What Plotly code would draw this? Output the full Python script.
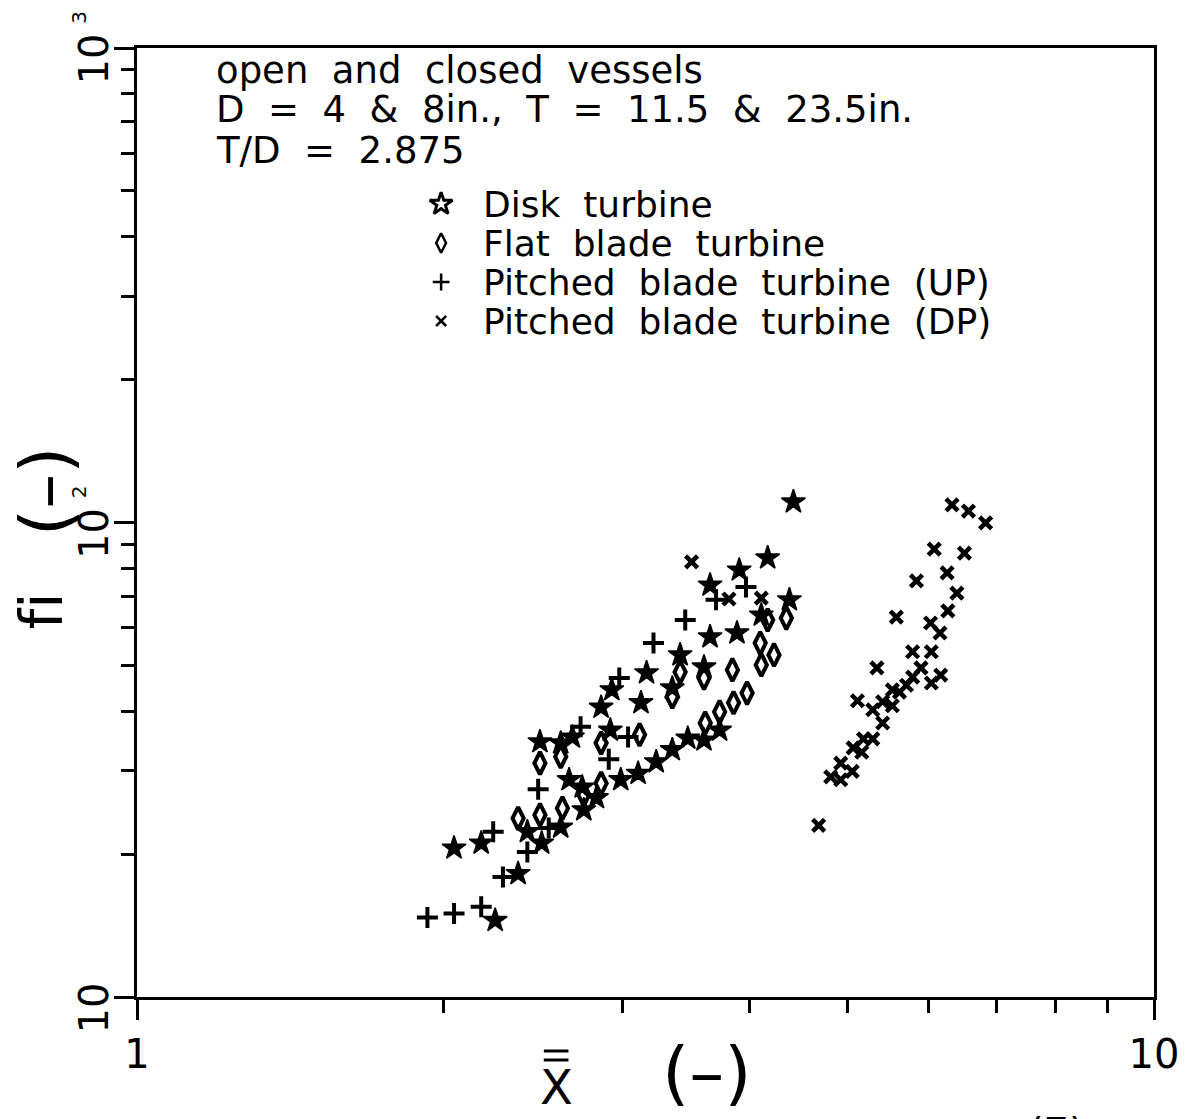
import plotly.graph_objects as go

# Disk turbine
disk_x = [4.42, 4.17, 3.91, 3.66, 4.38, 4.11, 3.66, 3.89, 3.42, 3.61, 3.17, 2.93, 2.86, 3.13, 3.36,
          3.74, 3.61, 3.48, 3.36, 3.24, 2.92, 2.68, 2.61, 2.49, 2.66, 2.74, 2.99, 3.11, 2.83, 2.75,
          2.61, 2.42, 2.50, 2.37, 2.25, 2.05, 2.18]
disk_y = [110.5, 84.2, 79.4, 73.8, 68.7, 63.8, 57.4, 58.5, 52.6, 49.6, 48.2, 44.4, 40.8, 41.7, 44.8,
          36.5, 34.8, 35.1, 33.2, 31.3, 36.5, 35.3, 34.3, 34.5, 28.7, 27.7, 28.7, 29.6, 26.3, 24.8,
          22.8, 22.3, 21.1, 18.2, 14.5, 20.6, 21.1]

# Flat blade turbine
flat_x = [4.17, 4.35, 3.42, 3.61, 3.85, 4.10, 4.11, 4.23, 3.36, 3.98, 3.86, 3.74, 3.62, 3.12, 2.86,
          2.61, 2.49, 2.86, 2.75, 2.62, 2.49, 2.37]
flat_y = [62.3, 62.9, 48.4, 47.0, 48.9, 55.7, 50.1, 52.6, 42.9, 43.7, 41.7, 39.9, 37.8, 35.7, 34.3,
          32.1, 31.1, 28.2, 26.7, 25.0, 24.2, 23.8]

# Pitched blade turbine, up-pumping
up_x = [3.97, 3.71, 3.46, 3.22, 2.98, 3.04, 2.91, 2.73, 2.48, 2.54, 2.42, 2.29, 2.24, 1.93, 2.05, 2.18]
up_y = [73.1, 68.7, 62.3, 55.7, 47.0, 35.3, 31.7, 37.1, 27.4, 22.7, 20.2, 17.9, 22.3, 14.7, 15.0, 15.5]

# Pitched blade turbine, down-pumping
dp_x = [3.51, 3.82, 4.11, 6.33, 6.57, 6.83, 6.08, 6.51, 6.26, 5.84, 6.40, 6.27, 5.58, 6.03, 6.16,
        5.79, 6.04, 5.34, 5.90, 5.79, 6.17, 6.04, 5.71, 5.53, 5.62, 5.11, 5.41, 5.53, 5.29, 5.41,
        5.29, 5.18, 5.06, 5.16, 4.92, 5.05, 4.81, 4.92, 4.68]
dp_y = [82.6, 69.0, 69.3, 108.9, 105.7, 99.8, 87.9, 86.2, 78.3, 75.3, 71.0, 65.1, 63.2, 61.4, 58.5,
        53.4, 53.4, 49.4, 49.4, 47.2, 47.7, 45.9, 45.4, 44.4, 43.9, 42.1, 41.9, 41.1, 40.3, 37.8,
        35.0, 35.0, 33.5, 32.8, 31.1, 29.9, 29.1, 28.7, 23.0]

series_names = ["Disk  turbine", "Flat  blade  turbine",
                "Pitched  blade  turbine  (UP)", "Pitched  blade  turbine  (DP)"]
header_lines = ["open  and  closed  vessels",
                "D  =  4  &  8in.,  T  =  11.5  &  23.5in.",
                "T/D  =  2.875"]
x_tick_vals = [1, 10]
x_tick_text = ["1", "10"]
x_minor_vals = [2, 3, 4, 5, 6, 7, 8, 9]
y_tick_exponents = [1, 2, 3]
y_minor_vals = [m * 10 ** e for e in (1, 2) for m in range(2, 10)]

FONT = "DejaVu Sans"
INK = "black"

# plot-area geometry in pixels (used to place free text in paper units)
W, H = 1191, 1119
L, R, T, B = 137, 24, 48, 122
PW, PH = W - L - R, H - T - B


def px_x(px):
    return (px - L) / PW


def px_y(py):
    return (H - B - py) / PH


def note(text, x, y, size, angle=0, xanchor="center", yanchor="middle", **kw):
    return dict(x=x, y=y, xref=kw.pop("xref", "paper"), yref=kw.pop("yref", "paper"),
                text=text, textangle=angle, showarrow=False, xanchor=xanchor,
                yanchor=yanchor, font=dict(family=FONT, size=size, color=INK), **kw)


marker_styles = [
    dict(symbol="star", size=18, color=INK, line=dict(color=INK, width=1.5)),
    dict(symbol="diamond-tall-open", size=16, color=INK, line=dict(color=INK, width=4)),
    dict(symbol="cross-thin-open", size=15, color=INK, line=dict(color=INK, width=4)),
    dict(symbol="x-thin-open", size=12, color=INK, line=dict(color=INK, width=4.5)),
]
legend_styles = [
    dict(symbol="star-open", size=17, color=INK, line=dict(color=INK, width=3)),
    dict(symbol="diamond-tall-open", size=14, color=INK, line=dict(color=INK, width=2.5)),
    dict(symbol="cross-thin-open", size=12, color=INK, line=dict(color=INK, width=2.5)),
    dict(symbol="x-thin-open", size=10, color=INK, line=dict(color=INK, width=2.5)),
]

fig = go.Figure()
for xs, ys, name, mk in zip([disk_x, flat_x, up_x, dp_x], [disk_y, flat_y, up_y, dp_y],
                            series_names, marker_styles):
    fig.add_trace(go.Scatter(x=xs, y=ys, mode="markers", name=name, marker=mk,
                             showlegend=False, xaxis="x", yaxis="y"))

annotations = []

# hand-drawn key inside the plot area
key_rows_px = [204, 243, 282, 321]
for row, name, mk in zip(key_rows_px, series_names, legend_styles):
    fig.add_trace(go.Scatter(x=[px_x(445)], y=[px_y(row)], mode="markers", marker=mk,
                             showlegend=False, xaxis="x2", yaxis="y2", hoverinfo="skip"))
    annotations.append(note(name, px_x(485), px_y(row), 36, xanchor="left"))

for line, cy in zip(header_lines, [70, 110, 150]):
    annotations.append(note(line, px_x(215), px_y(cy), 37, xanchor="left"))

# rotated decade labels on the y axis
for e in y_tick_exponents:
    annotations.append(note("10", px_x(93), e, 40, angle=-90, yref="y", yshift=-11))
    if e > 1:
        annotations.append(note(str(e), px_x(78), e, 20, angle=-90, yref="y", yshift=31))

# axis titles and figure number
annotations += [
    note("(–)", px_x(45), px_y(491), 70, angle=-90),
    note("f\u200ci", px_x(41), px_y(611), 58, angle=-90),
    note("X", px_x(562), px_y(1087), 48),
    note("(–)", px_x(714), px_y(1073), 70),
    note("(7)", px_x(1068), px_y(1108), 40, yanchor="top"),
]
for a in annotations:
    fig.add_annotation(**a)

# double bar over the X of the abscissa title
for bar_y in (1051, 1060):
    fig.add_shape(type="line", xref="paper", yref="paper",
                  x0=px_x(549), x1=px_x(574), y0=px_y(bar_y), y1=px_y(bar_y),
                  line=dict(color=INK, width=3))

axis_common = dict(type="log", showline=True, linewidth=3, linecolor=INK, mirror=True,
                   ticks="outside", ticklen=20, tickwidth=3, tickcolor=INK,
                   showgrid=False, zeroline=False)

fig.update_layout(
    width=W, height=H,
    margin=dict(l=L, r=R, t=T, b=B),
    paper_bgcolor="white", plot_bgcolor="white",
    font=dict(family=FONT, color=INK),
    showlegend=False,
    xaxis=dict(range=[0, 1], tickvals=x_tick_vals, ticktext=x_tick_text,
               tickfont=dict(family=FONT, size=40, color=INK), ticklabeloverflow="allow",
               minor=dict(tickvals=x_minor_vals, ticks="outside", ticklen=13, tickwidth=3,
                          tickcolor=INK, showgrid=False),
               **axis_common),
    yaxis=dict(range=[1, 3], tickvals=[10 ** e for e in y_tick_exponents], showticklabels=False,
               minor=dict(tickvals=y_minor_vals, ticks="outside", ticklen=13, tickwidth=3,
                          tickcolor=INK, showgrid=False),
               **axis_common),
    xaxis2=dict(overlaying="x", range=[0, 1], visible=False, anchor="y2"),
    yaxis2=dict(overlaying="y", range=[0, 1], visible=False, anchor="x2"),
)

fig.write_html("out.html")
